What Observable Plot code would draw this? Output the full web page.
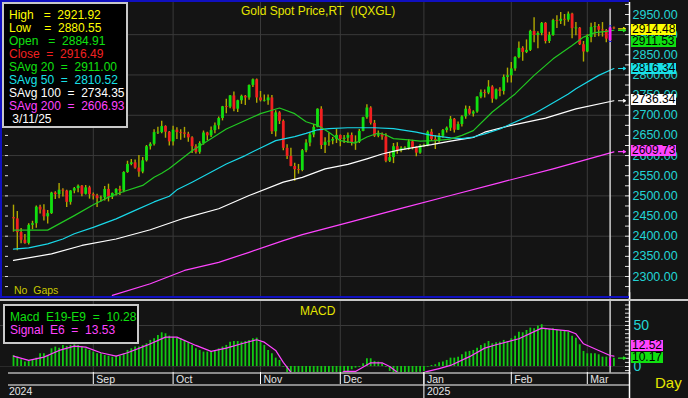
<!DOCTYPE html>
<html><head><meta charset="utf-8">
<script src="https://cdn.jsdelivr.net/npm/d3@7"></script>
<script src="https://cdn.jsdelivr.net/npm/@observablehq/plot@0.6"></script>
<style>
body{margin:0;background:#000;}
#wrap{position:relative;width:688px;height:398px;background:#141414;overflow:hidden;font-family:"Liberation Sans",Arial,sans-serif;}
#wrap svg{position:absolute;left:0;overflow:visible;}
.t{position:absolute;font-size:12px;line-height:13px;white-space:pre;}
.box{position:absolute;background:#000;border:2px solid #c8c8c8;box-sizing:border-box;}
.tag{position:absolute;font-size:12px;line-height:11px;height:11px;color:#000;padding:0 1px;white-space:pre;}
.hl{position:absolute;}
</style></head><body><div id="wrap"></div>
<script>
// ---- daily bars, 2024-08-02 .. 2025-03-12 (weekdays) ----
const open = [2446,2443,2409,2390,2382,2427,2431,2472,2465,2448, 2456,2507,2503,2514,2512,2484,2512,2518,2524,2504, 2520,2503,2500,2493,2495,2516,2497,2506,2516,2512,
 2558,2578,2582,2569,2559,2587,2622,2628,2657,2657, 2672,2658,2634,2663,2657,2656,2653,2644,2622,2608, 2630,2656,2649,2662,2674,2692,2721,2720,2748,2715,
 2736,2747,2743,2774,2788,2743,2736,2736,2743,2659, 2706,2685,2618,2598,2573,2565,2563,2612,2631,2651, 2670,2715,2625,2633,2636,2640,2650,2640,2643,2650,
 2632,2633,2660,2694,2718,2680,2648,2652,2646,2586, 2595,2622,2612,2618,2618,2634,2620,2606,2624,2625, 2658,2640,2636,2648,2662,2668,2690,2663,2677,2696,
 2715,2703,2708,2745,2756,2755,2770,2740,2763,2759, 2794,2798,2815,2843,2866,2856,2861,2908,2898,2903, 2928,2883,2898,2935,2933,2938,2936,2951,2915,2916,
 2875,2857,2893,2918,2920,2911,2910,2884.91,2916.5];
const high = [2477,2461,2419,2404,2431,2437,2475,2477,2478,2464, 2509,2510,2531,2518,2514,2513,2521,2527,2526,2526, 2524,2507,2504,2500,2523,2529,2507,2518,2524,2560,
 2586,2590,2589,2600,2595,2625,2632,2664,2670,2685, 2674,2660,2673,2669,2664,2670,2658,2647,2627,2634, 2661,2658,2671,2681,2696,2722,2740,2749,2758,2737,
 2750,2749,2775,2790,2790,2759,2750,2750,2749,2711, 2709,2688,2627,2618,2581,2578,2615,2639,2657,2677, 2716,2721,2644,2656,2645,2665,2651,2650,2656,2656,
 2649,2665,2695,2726,2721,2687,2661,2656,2654,2608, 2630,2632,2622,2622,2639,2638,2622,2627,2628,2661, 2665,2649,2655,2665,2671,2697,2692,2683,2699,2723,
 2722,2711,2746,2763,2763,2786,2773,2765,2768,2800, 2817,2831,2845,2882,2870,2887,2911,2942,2907,2930, 2930,2906,2938,2947,2955,2950,2956,2953,2930,2918,
 2883,2900,2928,2930,2925,2930,2913,2921.92,2919];
const low = [2410,2364,2381,2380,2378,2416,2420,2455,2438,2430, 2454,2491,2493,2497,2471,2477,2505,2508,2498,2502, 2492,2490,2471,2485,2487,2485,2491,2500,2501,2508,
 2556,2575,2566,2546,2555,2584,2614,2624,2652,2654, 2643,2624,2624,2640,2638,2643,2633,2605,2604,2603, 2626,2637,2645,2654,2664,2686,2704,2716,2709,2707,
 2727,2724,2737,2769,2730,2733,2733,2725,2652,2646, 2677,2612,2590,2572,2536,2554,2560,2607,2622,2644, 2669,2615,2605,2623,2627,2630,2622,2630,2630,2624,
 2613,2630,2659,2690,2676,2645,2644,2638,2582,2583, 2580,2603,2607,2614,2613,2614,2597,2603,2620,2622, 2635,2615,2631,2643,2656,2660,2656,2662,2671,2690,
 2700,2696,2705,2741,2743,2751,2730,2738,2746,2750, 2780,2780,2809,2840,2834,2853,2858,2880,2865,2897, 2877,2878,2896,2915,2925,2921,2931,2890,2897,2873,
 2832,2855,2880,2893,2895,2894,2880,2880.55,2913];
const close = [2443,2409,2390,2382,2427,2431,2472,2465,2448,2456, 2507,2503,2514,2512,2484,2512,2518,2524,2504,2520, 2503,2500,2493,2495,2516,2497,2506,2516,2512,2558,
 2578,2582,2569,2559,2587,2622,2628,2657,2657,2672, 2658,2634,2663,2657,2656,2653,2644,2622,2608,2630, 2656,2649,2662,2674,2692,2721,2720,2748,2715,2736,
 2747,2743,2774,2788,2743,2736,2736,2743,2659,2706, 2685,2618,2598,2573,2565,2563,2612,2631,2651,2670, 2715,2625,2633,2636,2640,2650,2640,2643,2650,2632,
 2633,2660,2694,2718,2680,2648,2652,2646,2586,2595, 2622,2612,2618,2618,2634,2620,2606,2624,2625,2658, 2640,2636,2648,2662,2668,2690,2663,2677,2696,2715,
 2703,2708,2745,2756,2755,2770,2740,2763,2759,2794, 2798,2815,2843,2866,2856,2861,2908,2898,2903,2928, 2883,2898,2935,2933,2938,2936,2951,2915,2916,2875,
 2857,2893,2918,2920,2911,2910,2889,2916.49,2914.48];

// ---- moving averages (bar index -> value) ----
const ma20Idx = [0,9,16,21,25,29,34,37,39,41,47,56,65,70,74,77,80,83,86,90,93,96,98,100,104,107,111,115,118,121,126,132,137,142,147,150,153,156,158];
const ma20Val = [2415,2415,2451,2478,2497,2511,2526,2546,2556,2568,2612,2666,2704,2718,2704,2684,2675,2658,2637,2631,2646,2656,2651,2642,2639,2636,2637,2641,2650,2662,2708,2753,2799,2840,2873,2894,2905,2908,2911];
const ma50Idx = [0,4,9,13,16,21,27,32,37,41,43,47,56,61,65,69,74,77,80,83,88,95,100,106,110,115,118,121,124,128,131,137,140,146,148,154,158];
const ma50Val = [2368,2371,2381,2393,2406,2422,2443,2464,2485,2499,2515,2534,2579,2600,2619,2637,2647,2655,2664,2667,2669,2669,2667,2658,2650,2644,2642,2646,2654,2666,2679,2704,2720,2753,2766,2799,2816];
const ma100Idx = [0,10,18,27,36,45,54,62,71,76,82,88,93,97,101,106,110,115,121,124,131,140,148,158];
const ma100Val = [2340,2356,2377,2393,2416,2445,2468,2501,2534,2546,2567,2578,2592,2604,2613,2621,2627,2636,2645,2658,2675,2693,2716,2736];
const ma200Idx = [26,36,45,54,62,71,76,89,102,115,128,142,158];
const ma200Val = [2253,2282,2315,2335,2360,2389,2404,2436,2469,2501,2533,2567,2609];

// ---- MACD histogram (per bar) and signal line ----
const macd = [13.4,11.4,8.2,5.4,6.2,7.4,10.2,15.5,15.5,13.4, 21.6,23.7,22.4,25.7,24.5,25.7,26.5,25.7,23.7,21.6, 19.6,17.6,15.5,15.5,13.4,12.6,11.4,12.6,12.6,15.5,
 19.6,21.6,23.7,23.7,25.7,27.7,31.8,33.8,37.8,41.1, 39.9,37.0,35.8,34.6,33.8,31.8,28.9,25.7,21.6,19.6, 17.6,17.6,18.4,19.6,21.6,23.7,25.7,29.7,30.5,30.5,
 29.7,30.5,31.8,33.8,34.6,29.7,25.7,19.6,15.5,10.2, 7.4,-0.8,-8,-14,-20,-24,-25,-24,-22,-19, -15,-14,-13,-12,-11,-10,-9,-8,-6,-4,
 -2,-1,3.4,9.4,9.4,6.2,5.4,3.4,-1,-6, -8,-9,-9,-9,-8,-8,-8,-7,-6,-0.8, 1.3,2.2,4.6,5.4,7.4,10.2,10.2,11.4,14.3,17.6,
 18.4,19.6,22.4,25.7,27.7,30.5,27.7,28.9,29.7,31.8, 30.5,33.8,37.0,41.9,41.1,43.9,46.8,46.0,49.4,51.0, 45.2,45.2,46.0,43.9,43.9,43.9,41.9,37.0,34.6,26.5,
 18.4,15.5,15.5,15.5,14.3,11.4,11.4,10.28,10.17];
const sigIdx = [0,4,8,12,16,19,23,27,30,35,40,43,48,52,56,60,64,66,69,71,73,76,80,84,87,90,94,97,99,101,104,106,109,112,115,120,124,127,133,139,142,146,148,150,154,157,158];
const sigVal = [12.6,7.4,11.4,19.6,24.9,23.7,16.8,12.6,16.8,25.7,35.8,35.8,25.7,18.4,22.4,27.7,32.6,29.7,19.6,5,-7,-20,-25,-15,-6,-6,4.5,4.5,0,-7,-12,-10,-6,-2.5,1.3,12,22.4,26.5,33.8,46.8,45.2,43.5,39.9,27.7,19.6,13.4,12.6];

// ---- axis labels ----
const monthLabels = ["Sep","Oct","Nov","Dec","Jan","Feb","Mar"];
const monthIdx = [21,42,65,86,108,131,151];
const yearLabels = ["2024","2025"];
const yearIdx = [-2,108];
const priceTicks = [2300,2350,2400,2450,2500,2550,2600,2650,2700,2750,2800,2850,2900,2950];
const priceGrid = [2300,2400,2500,2600,2700,2800,2900];
const cursorIdx = 157;

// ---- layout helpers ----
const STEP = 3.8, X0 = 13;
const px2i = px => (px - X0) / STEP;
const X = {domain: [px2i(0), px2i(629)], range: [0, 629], axis: null};
const GRID = "#3a3a3a", GREEN = "#10e010", RED = "#f22020", WICK = "#b0a800";
const FONT = "Liberation Sans, Arial, sans-serif";
const wrap = document.getElementById("wrap");

const bars = close.map((c, i) => ({i, o: open[i], h: high[i], l: low[i], c}));
const body = bars.map(d => {
  let a = Math.min(d.o, d.c), b = Math.max(d.o, d.c);
  if (b - a < 2.2) { const m = (a + b) / 2; a = m - 1.1; b = m + 1.1; }
  return {...d, a, b};
});
const pts = (I, V) => I.map((x, k) => ({x, y: V[k]}));

const leftTicks = d3.range(2250, 2976, 25);
const main = Plot.plot({
  width: 688, height: 298, marginLeft: 0, marginRight: 59, marginTop: 0, marginBottom: 0,
  x: X, y: {domain: [2300, 2950], range: [276, 14], axis: null},
  style: {background: "transparent", overflow: "visible"},
  marks: [
    Plot.ruleY(priceGrid, {stroke: GRID}),
    Plot.ruleX(monthIdx, {stroke: GRID}),
    Plot.ruleX(body.filter(d => d.i !== cursorIdx), {x: "i", y1: "l", y2: "h", stroke: WICK, strokeWidth: 1.4}),
    Plot.ruleX(body.filter(d => d.i !== cursorIdx), {x: "i", y1: "a", y2: "b", stroke: d => d.c >= d.o ? GREEN : RED, strokeWidth: 2.8}),
    Plot.line(pts(ma200Idx, ma200Val), {x: "x", y: "y", stroke: "#ff44ff", strokeWidth: 1.2, clip: true}),
    Plot.line(pts(ma100Idx, ma100Val), {x: "x", y: "y", stroke: "#ffffff", strokeWidth: 1.2}),
    Plot.line(pts(ma50Idx, ma50Val), {x: "x", y: "y", stroke: "#19d8e8", strokeWidth: 1.2}),
    Plot.line(pts(ma20Idx, ma20Val), {x: "x", y: "y", stroke: "#22c822", strokeWidth: 1.2}),
    Plot.ruleX([cursorIdx], {y1: 2963, y2: 2245, stroke: "#e8e8e8", strokeWidth: 1.3}),
    Plot.ruleX([bars[cursorIdx]], {x: "i", y1: "o", y2: "c", stroke: "#ff20ff", strokeWidth: 2.8}),
    Plot.ruleX([bars[cursorIdx]], {x: "i", y1: d => d.h - 2.5, y2: "h", stroke: "#2020ff", strokeWidth: 2.8}),
    Plot.ruleX([bars[cursorIdx]], {x: "i", y1: "l", y2: d => d.l + 2.5, stroke: "#2020ff", strokeWidth: 2.8}),
    Plot.ruleY(leftTicks, {x1: px2i(5), x2: px2i(8), stroke: "#dddddd"}),
    Plot.ruleY(leftTicks, {x1: px2i(625), x2: px2i(629), stroke: "#dddddd"}),
    Plot.ruleX([px2i(629)], {y1: 2980, y2: 2240, stroke: "#ffffff", strokeWidth: 1.5}),
    Plot.axisY({anchor: "right", ticks: priceTicks, tickFormat: d => d.toFixed(2), tickSize: 0, tickPadding: 3, fill: "#22d4d4", fontSize: 12.5, fontFamily: FONT}),
    Plot.arrow([{v: 2914.5, c: "#e8e800"}, {v: 2910.5, c: "#20e020"}, {v: 2816, c: "#19d8e8"}, {v: 2736, c: "#ffffff"}, {v: 2609.7, c: "#ff44ff"}],
      {x1: px2i(618), x2: px2i(625), y1: "v", y2: "v", stroke: "c", headLength: 4, strokeWidth: 1.2})
  ]
});
main.style.top = "0px";
wrap.appendChild(main);

const sig = pts(sigIdx, sigVal);
const macdBars = macd.map((v, i) => ({i, v}));
const macdTicks = d3.range(-5, 80, 5);
const mp = Plot.plot({
  width: 688, height: 72, marginLeft: 0, marginRight: 59, marginTop: 0, marginBottom: 0,
  x: X, y: {domain: [0, 50], range: [66, 25], axis: null},
  style: {background: "transparent", overflow: "visible"},
  marks: [
    Plot.ruleY([50], {stroke: GRID}),
    Plot.ruleY([0], {stroke: "#2a2a2a"}),
    Plot.ruleX(monthIdx, {stroke: GRID}),
    Plot.ruleX(macdBars.filter(d => d.i !== cursorIdx), {x: "i", y1: 0, y2: "v", stroke: "#12c812", strokeWidth: 1.8, clip: true}),
    Plot.ruleX([cursorIdx], {y1: 80, y2: -8, stroke: "#e8e8e8", strokeWidth: 1.3}),
    Plot.ruleX([macdBars[cursorIdx]], {x: "i", y1: 0, y2: "v", stroke: "#ff20ff", strokeWidth: 2}),
    Plot.line(sig, {x: "x", y: "y", stroke: "#ff44ff", strokeWidth: 1.2, clip: true}),
    Plot.ruleY(macdTicks, {x1: px2i(625), x2: px2i(629), stroke: "#dddddd", clip: true}),
    Plot.ruleX([px2i(629)], {y1: 90, y2: -10, stroke: "#ffffff", strokeWidth: 1.5}),
    Plot.axisY({anchor: "right", ticks: [0, 50], tickFormat: d => String(d), tickSize: 0, tickPadding: 4, fill: "#22d4d4", fontSize: 14, fontFamily: FONT}),
    Plot.arrow([{v: 10.2, c: "#20e020"}], {x1: px2i(618), x2: px2i(625), y1: "v", y2: "v", stroke: "c", headLength: 4, strokeWidth: 1.2})
  ]
});
mp.style.top = "300px";
wrap.appendChild(mp);

const ax = Plot.plot({
  width: 688, height: 26, marginLeft: 0, marginRight: 59, marginTop: 0, marginBottom: 0,
  x: X, y: {domain: [0, 26], range: [0, 26], axis: null},
  style: {background: "transparent", overflow: "visible"},
  marks: [
    Plot.ruleY([0.5, 12.5], {x1: px2i(8), x2: px2i(629), stroke: "#ffffff"}),
    Plot.ruleX(monthIdx, {y1: 0, y2: 12, stroke: "#ffffff"}),
    Plot.ruleX([yearIdx[1]], {y1: 0, y2: 26, stroke: "#ffffff"}),
    Plot.text(monthLabels, {x: (d, k) => monthIdx[k], y: 7, dx: 3, textAnchor: "start", fill: "#e6e6e6", fontSize: 10.5, fontFamily: FONT}),
    Plot.text(yearLabels, {x: (d, k) => yearIdx[k], y: 19.5, dx: 3, textAnchor: "start", fill: "#e6e6e6", fontSize: 10.5, fontFamily: FONT}),
    Plot.ruleX([px2i(629)], {y1: 0, y2: 26, stroke: "#ffffff", strokeWidth: 1.5})
  ]
});
ax.style.top = "372px";
wrap.appendChild(ax);

// ---- frame decorations and text ----
function el(cls, css, text) { const d = document.createElement("div"); d.className = cls; d.style.cssText = css; if (text != null) d.textContent = text; wrap.appendChild(d); return d; }
el("hl", "left:0;top:0;width:629px;height:2px;background:#1010c0");
el("hl", "left:0;top:0;width:2px;height:298px;background:#1010c0");
el("hl", "left:0;top:296px;width:629px;height:2px;background:#1010c0");
el("hl", "left:0;top:299px;width:688px;height:2px;background:#c8c8c8");

el("t", "left:241px;top:5px;color:#e6e600;font-size:12px", "Gold Spot Price,RT  (IQXGL)");
el("t", "left:14px;top:284px;color:#c8c800;font-size:10.5px", "No  Gaps");
el("t", "left:300px;top:305px;color:#e6e600;font-size:12px", "MACD");
el("t", "left:655px;top:375px;color:#e6e600;font-size:15px;line-height:16px", "Day");

el("box", "left:2px;top:2px;width:126px;height:126px");
const rows = [["High   =  2921.92", "#ffff00"], ["Low    =  2880.55", "#ffff00"], ["Open   =  2884.91", "#10e010"], ["Close  =  2916.49", "#f22020"],
  ["SAvg 20  =  2911.00", "#10e010"], ["SAvg 50  =  2810.52", "#19e0e8"], ["SAvg 100  =  2734.35", "#ffffff"], ["SAvg 200  =  2606.93", "#ff44ff"], [" 3/11/25", "#ffffff"]];
rows.forEach(([s, c], k) => el("t", `left:9px;top:${9 + k * 12.95}px;color:${c}`, s));

el("box", "left:3px;top:304px;width:136px;height:40px");
el("t", "left:10px;top:311px;color:#10e010;font-size:12px", "Macd  E19-E9  =  10.28");
el("t", "left:10px;top:324px;color:#ff44ff;font-size:12px", "Signal  E6  =  13.53");

const tags = [["2914.48", "#ffff00", 24], ["2911.53", "#10e010", 36], ["2816.34", "#19e0e8", 63], ["2736.34", "#ffffff", 94], ["2609.73", "#ff44ff", 145]];
tags.forEach(([s, c, t]) => el("tag", `left:631px;top:${t}px;background:${c}`, s));
el("tag", "left:631px;top:340px;background:#ff44ff", "12.52");
el("tag", "left:631px;top:352px;background:#10e010", "10.17");
</script></body></html>
